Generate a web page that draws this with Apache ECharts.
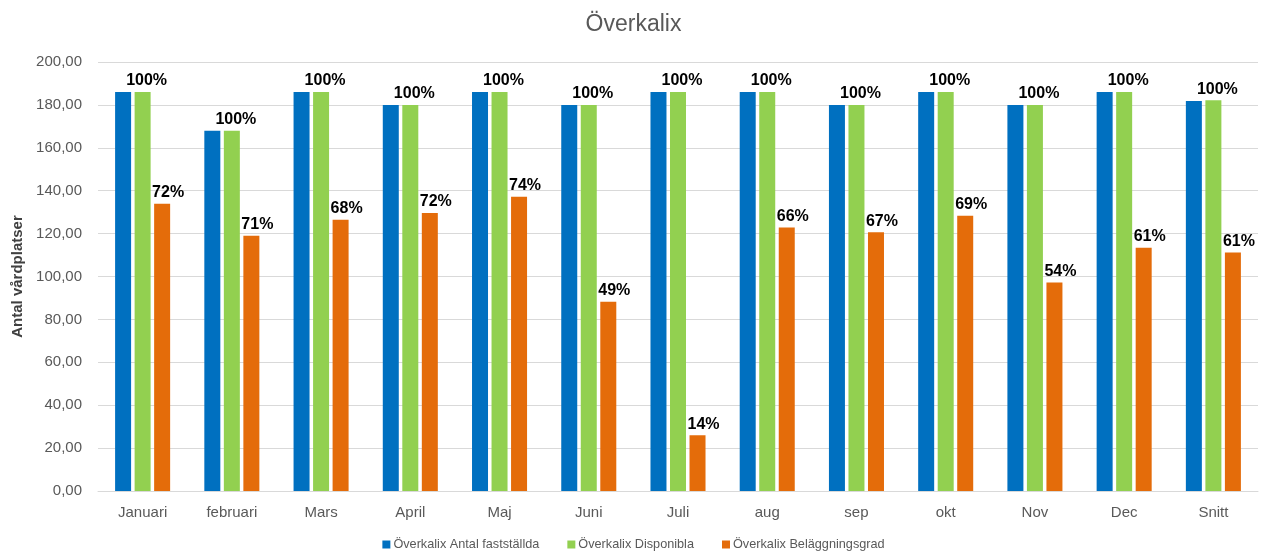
<!DOCTYPE html>
<html>
<head>
<meta charset="utf-8">
<script src="https://cdn.jsdelivr.net/npm/echarts@6/dist/echarts.min.js"></script>
<style>html,body{margin:0;padding:0;background:#fff}#c{width:1267px;height:558px}</style>
</head>
<body>
<div id="c"></div>
<script>
var categories = ['Januari','februari','Mars','April','Maj','Juni','Juli','aug','sep','okt','Nov','Dec','Snitt'];
var fastställda = [186,168,186,180,186,180,186,186,180,186,180,186,181.8];
var disponibla = [186,168,186,180,186,180,186,186,180,186,180,186,182.2];
var beläggning = [133.9,119,126.5,129.6,137.2,88.2,26,122.8,120.6,128.3,97.2,113.4,111.2];
var disponiblaPct = ['100%','100%','100%','100%','100%','100%','100%','100%','100%','100%','100%','100%','100%'];
var beläggningPct = ['72%','71%','68%','72%','74%','49%','14%','66%','67%','69%','54%','61%','61%'];
var yTicks = {min:0, max:200, interval:20};

var font = '"Liberation Sans", Arial, sans-serif';
var chart = echarts.init(document.getElementById('c'));
var labelStyle = function(arr, dx){
  return {show:true, position:'top', distance:3, offset:[dx,0], fontFamily:font, fontSize:16, fontWeight:'bold', color:'#000',
    formatter:function(p){return arr[p.dataIndex];}};
};
chart.setOption({
  animation:false,
  title:{text:'Överkalix', left:'center', top:8, textStyle:{fontFamily:font, fontSize:23, fontWeight:'normal', color:'#595959'}},
  grid:{left:98, right:9, top:62, bottom:67},
  legend:{bottom:2, left:'center', itemWidth:8, itemHeight:8, itemGap:28, icon:'rect',
    textStyle:{fontFamily:font, fontSize:12.7, color:'#595959', padding:[0,0,0,-2]}},
  xAxis:{type:'category', data:categories,
    axisLine:{lineStyle:{color:'#d9d9d9'}}, axisTick:{show:false},
    axisLabel:{fontFamily:font, fontSize:15, color:'#595959', margin:14}},
  yAxis:{type:'value', min:yTicks.min, max:yTicks.max, interval:yTicks.interval,
    name:'Antal vårdplatser', nameLocation:'middle', nameGap:70, nameRotate:90,
    nameTextStyle:{fontFamily:font, fontSize:15, fontWeight:'bold', color:'#404040'},
    axisLine:{show:false}, axisTick:{show:false},
    splitLine:{lineStyle:{color:'#d9d9d9'}},
    axisLabel:{fontFamily:font, fontSize:15, color:'#595959', margin:16,
      formatter:function(v){return v.toFixed(2).replace('.',',');}}},
  series:[
    {name:'Överkalix Antal fastställda', type:'bar', data:fastställda, barWidth:16, barGap:'22%', barCategoryGap:'37%',
      itemStyle:{color:'#0070C0'}},
    {name:'Överkalix Disponibla', type:'bar', data:disponibla, barWidth:16, barGap:'22%',
      itemStyle:{color:'#92D050'}, label:labelStyle(disponiblaPct, 4)},
    {name:'Överkalix Beläggningsgrad', type:'bar', data:beläggning, barWidth:16, barGap:'22%',
      itemStyle:{color:'#E46C0A'}, label:labelStyle(beläggningPct, 6)}
  ]
});
</script>
</body>
</html>
